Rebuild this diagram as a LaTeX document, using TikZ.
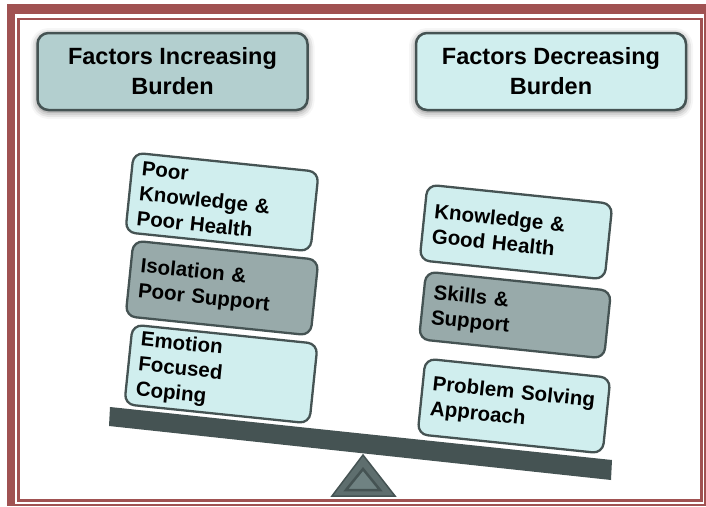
\documentclass[tikz,border=0pt]{standalone}
\usepackage{fontspec}
\setmainfont{Liberation Sans}
\usepackage{xcolor}
\usepackage{tikz}
\usetikzlibrary{shadows.blur}

\definecolor{framered}{HTML}{A05252}
\definecolor{slate}{HTML}{455353}
\definecolor{paleteal}{HTML}{D0EEEE}
\definecolor{greyteal}{HTML}{B3CFCF}
\definecolor{midteal}{HTML}{98AAAA}
\definecolor{pivotfill}{HTML}{5E6E6E}
\definecolor{pivotinner}{HTML}{6F8282}

\tikzset{
  header/.style={draw=slate, line width=2.5pt, rounded corners=11pt,
    minimum width=270pt, minimum height=77pt, align=center,
    font=\fontsize{23.5}{30}\selectfont\bfseries,
    blur shadow={shadow xshift=0pt, shadow yshift=-2pt,
      shadow blur radius=7pt, shadow opacity=55}},
  factor/.style={draw=slate, line width=2.3pt, rounded corners=10pt,
    text width=166pt, inner xsep=10pt, minimum height=#1, align=left,
    rotate=-5.9, font=\fontsize{20.5}{25}\selectfont\bfseries},
}

\begin{document}
\begin{tikzpicture}[x=1pt,y=-1pt]
\useasboundingbox (0,0) rectangle (706,506);

% page border
\fill[framered] (7,4) rectangle (706,14);
\fill[framered] (7,4) rectangle (15,506);
\fill[framered] (15,504) rectangle (706,506);
\fill[framered] (704,4) rectangle (706,506);
\draw[framered, line width=2.5pt] (18.5,19) rectangle (701.5,500.5);

% headings
\node[header, fill=greyteal] (incr) at (172.5,71.5) {Factors Increasing\\Burden};
\node[header, fill=paleteal] (decr) at (551,71.5) {Factors Decreasing\\Burden};

% beam and pivot
\fill[slate] (110,407) -- (612,460) -- (611,480) -- (109,426) -- cycle;
\filldraw[fill=pivotfill, draw=slate, line width=1.5pt] (363,455) -- (395,496) -- (332,496) -- cycle;
\filldraw[fill=pivotinner, draw=slate, line width=2.5pt] (363,469) -- (380,490) -- (346,490) -- cycle;

% left pan
\node[factor=80pt, fill=paleteal] (poorknow) at (222,202) {Poor\\Knowledge \&\\Poor Health};
\node[factor=76pt, fill=midteal] (isol) at (222,288) {Isolation \&\\Poor Support};
\node[factor=80pt, fill=paleteal] (emot) at (221,374) {Emotion\\Focused\\Coping};

% right pan
\node[factor=76pt, fill=paleteal] (know) at (516,232) {Knowledge \&\\Good Health};
\node[factor=68pt, fill=midteal] (skills) at (515,315) {Skills \&\\Support};
\node[factor=76pt, fill=paleteal] (probsolv) at (514,406) {Problem Solving\\Approach};
\end{tikzpicture}
\end{document}
